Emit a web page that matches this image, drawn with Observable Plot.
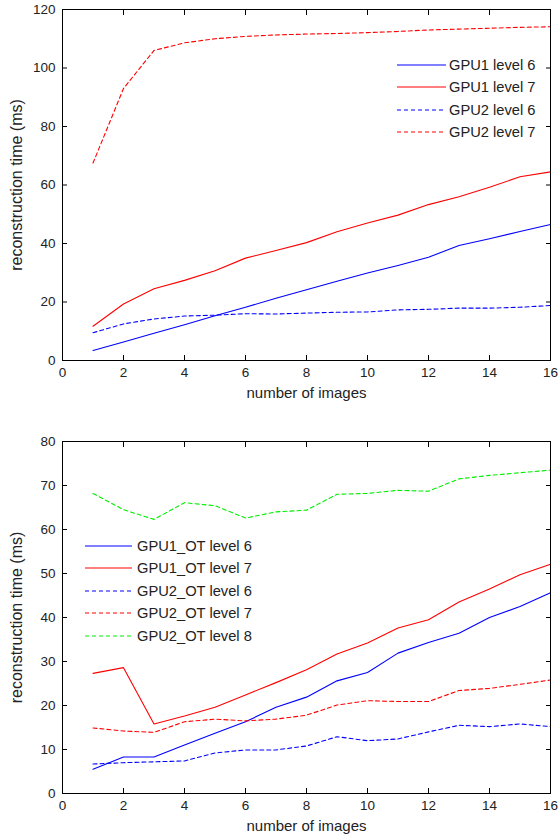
<!DOCTYPE html>
<html><head><meta charset="utf-8">
<script src="https://cdn.jsdelivr.net/npm/d3@7"></script>
<script src="https://cdn.jsdelivr.net/npm/@observablehq/plot@0.6"></script>
<style>
body{margin:0;background:#fff;font-family:"Liberation Sans",Arial,sans-serif;}
#wrap{position:relative;width:559px;height:836px;overflow:hidden;}
#wrap svg{display:block;}
g[aria-label="x-axis label"] text{font-size:15px;}
g[aria-label="y-axis label"] text{font-size:16px;}
.leg{position:absolute;font-size:14.7px;color:#222;line-height:16px;white-space:nowrap;}
.leg .row{position:absolute;left:0;height:16px;}
.leg svg{position:absolute;top:2px;}
.leg span{position:absolute;top:0;}
</style></head><body><div id="wrap"></div>
<script>
const images = [1,2,3,4,5,6,7,8,9,10,11,12,13,14,15,16];
const xTicks = [0,2,4,6,8,10,12,14,16];

// Top panel
const gpu1Level6 = [3.4,6.3,9.3,12.2,15.3,18.2,21.3,24.2,27.1,29.9,32.5,35.3,39.3,41.6,44.1,46.5];
const gpu1Level7 = [11.7,19.3,24.5,27.4,30.7,35,37.6,40.3,44,47,49.7,53.3,56,59.2,62.8,64.5];
const gpu2Level6 = [9.5,12.5,14.2,15.2,15.5,16,15.9,16.2,16.5,16.6,17.3,17.5,17.9,17.9,18.2,18.8];
const gpu2Level7 = [67.5,93,106,108.6,110,110.8,111.3,111.6,111.8,112.1,112.5,113,113.3,113.6,113.9,114.1];
const topYTicks = [0,20,40,60,80,100,120];
const topNames = ["GPU1 level 6","GPU1 level 7","GPU2 level 6","GPU2 level 7"];

// Bottom panel
const ot1Level6 = [5.5,8.3,8.3,11,13.7,16.3,19.6,21.9,25.6,27.5,31.9,34.3,36.4,40,42.5,45.6];
const ot1Level7 = [27.3,28.6,15.8,17.6,19.6,22.4,25.2,28.1,31.7,34.2,37.6,39.5,43.5,46.5,49.7,52.1];
const ot2Level6 = [6.7,7.0,7.2,7.4,9.2,9.9,9.9,10.8,12.9,12.0,12.4,14.0,15.5,15.2,15.8,15.2];
const ot2Level7 = [14.9,14.2,13.9,16.3,16.9,16.5,16.9,17.8,20.1,21.1,20.9,20.9,23.4,23.9,24.8,25.8];
const ot2Level8 = [68.2,64.5,62.3,66.1,65.4,62.6,64,64.4,68,68.2,68.9,68.7,71.5,72.3,72.9,73.5];
const bottomYTicks = [0,10,20,30,40,50,60,70,80];
const bottomNames = ["GPU1_OT level 6","GPU1_OT level 7","GPU2_OT level 6","GPU2_OT level 7","GPU2_OT level 8"];

const BLUE="#0000ff", RED="#ff0000", GREEN="#00ee00", DASH="4,3";
const topStyles = [[BLUE,null],[RED,null],[BLUE,DASH],[RED,DASH]];
const bottomStyles = [[BLUE,null],[RED,null],[BLUE,DASH],[RED,DASH],[GREEN,DASH]];

function panel(seriesValues, styles, yDomain, yTicks, mt, mb) {
  const lines = seriesValues.map((vals, k) => {
    const data = images.map((x, i) => ({x, y: vals[i]}));
    return Plot.line(data, {x: "x", y: "y", stroke: styles[k][0], strokeWidth: 1.1, strokeDasharray: styles[k][1]});
  });
  return Plot.plot({
    width: 559, height: 418,
    marginLeft: 62, marginRight: 9, marginTop: mt, marginBottom: mb,
    style: {fontFamily: '"Liberation Sans", Arial, sans-serif', fontSize: "13.5px", color: "#222", background: "white", overflow: "visible"},
    x: {domain: [0, 16]},
    y: {domain: yDomain},
    marks: [
      ...lines,
      Plot.frame({stroke: "black", strokeWidth: 1}),
      Plot.axisX(xTicks, {anchor: "bottom", tickSize: 0, tickPadding: 7, label: "number of images", labelAnchor: "center", labelOffset: 37, labelArrow: "none"}),
      Plot.axisX(xTicks, {anchor: "bottom", tickSize: 5, dy: -5, fill: "none", label: null, stroke: "black"}),
      Plot.axisX(xTicks, {anchor: "top", tickSize: 5, dy: 5, fill: "none", label: null, stroke: "black"}),
      Plot.axisY(yTicks, {anchor: "left", tickSize: 0, tickPadding: 7, label: "reconstruction time (ms)", labelAnchor: "center", labelOffset: 52, labelArrow: "none"}),
      Plot.axisY(yTicks, {anchor: "left", tickSize: 5, dx: 5, fill: "none", label: null, stroke: "black"}),
      Plot.axisY(yTicks, {anchor: "right", tickSize: 5, dx: -5, fill: "none", label: null, stroke: "black"})
    ]
  });
}

const wrap = document.getElementById("wrap");
wrap.appendChild(panel([gpu1Level6, gpu1Level7, gpu2Level6, gpu2Level7], topStyles, [0, 120], topYTicks, 9, 58));
wrap.appendChild(panel([ot1Level6, ot1Level7, ot2Level6, ot2Level7, ot2Level8], bottomStyles, [0, 80], bottomYTicks, 23, 43));

function legend(names, styles, left, top, step, lineLen, gap) {
  const div = document.createElement("div");
  div.className = "leg";
  div.style.left = left + "px";
  div.style.top = top + "px";
  names.forEach((n, i) => {
    const row = document.createElement("div");
    row.className = "row";
    row.style.top = (i * step) + "px";
    const [c, d] = styles[i];
    row.innerHTML = `<svg width="${lineLen}" height="12"><line x1="0" x2="${lineLen}" y1="6" y2="6" stroke="${c}" stroke-width="1.1" ${d ? `stroke-dasharray="${d}"` : ""}/></svg><span style="left:${lineLen + gap}px">${n}</span>`;
    div.appendChild(row);
  });
  wrap.appendChild(div);
}
legend(topNames, topStyles, 397, 57, 22.4, 49, 3);
legend(bottomNames, bottomStyles, 85, 538, 22.4, 47, 5);
</script></body></html>
